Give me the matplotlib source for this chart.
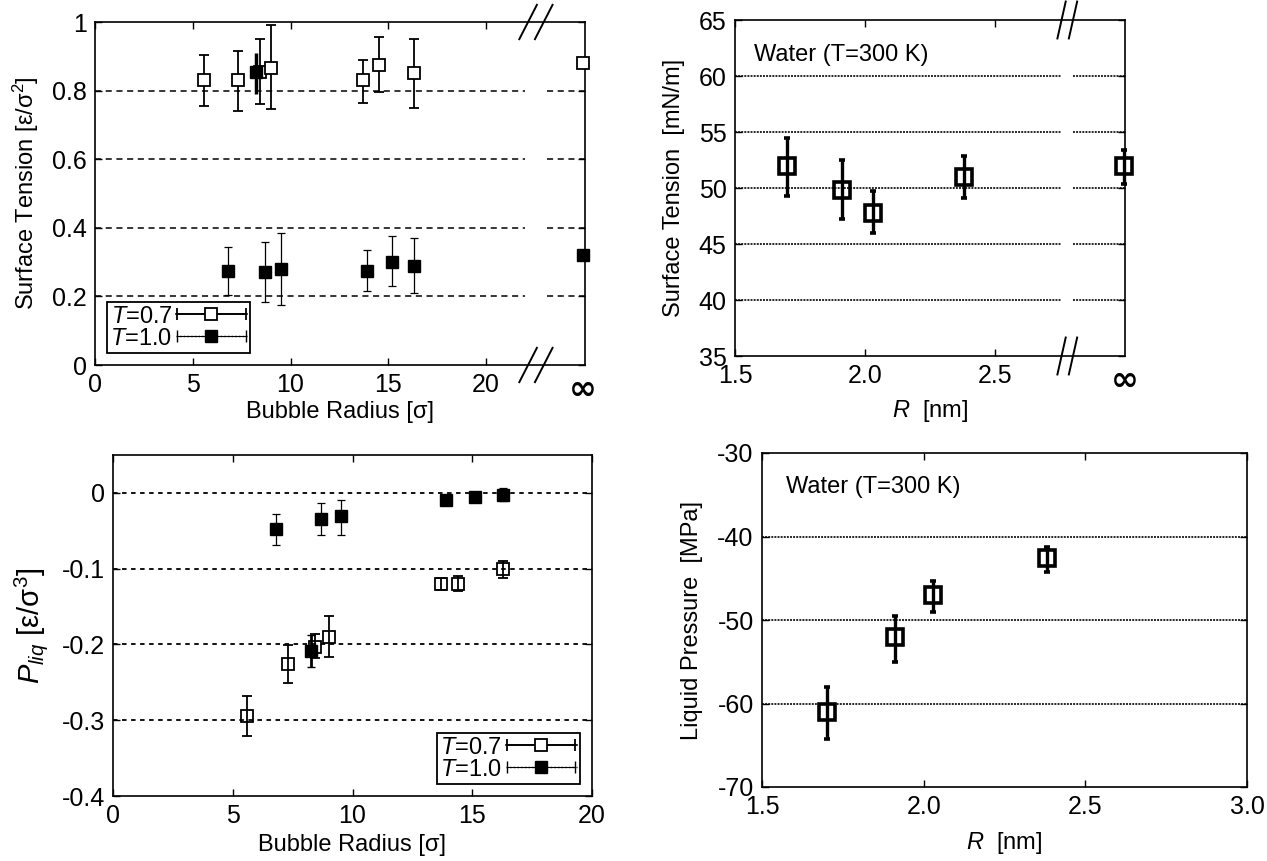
import matplotlib
matplotlib.use("Agg")
import matplotlib.pyplot as plt
from matplotlib.legend_handler import HandlerErrorbar
import numpy as np

plt.rcParams["font.family"] = ["Liberation Sans", "DejaVu Sans"]
plt.rcParams["mathtext.fontset"] = "custom"
plt.rcParams["mathtext.rm"] = "Liberation Sans"
plt.rcParams["mathtext.it"] = "Liberation Sans:italic"
plt.rcParams["axes.unicode_minus"] = False

# --- top left: LJ surface tension ---
st07_x = [5.6, 7.3, 8.45, 9.0, 13.7, 14.5, 16.3]
st07_y = [0.83, 0.83, 0.855, 0.865, 0.83, 0.875, 0.85]
st07_lo = [0.755, 0.74, 0.76, 0.745, 0.765, 0.795, 0.75]
st07_hi = [0.905, 0.915, 0.95, 0.99, 0.89, 0.955, 0.95]
st07_inf = 0.88

st10_x = [6.8, 8.7, 9.5, 13.9, 15.2, 16.3]
st10_y = [0.275, 0.27, 0.28, 0.275, 0.30, 0.29]
st10_lo = [0.205, 0.185, 0.175, 0.215, 0.23, 0.21]
st10_hi = [0.345, 0.36, 0.385, 0.335, 0.375, 0.37]
st10_inf = 0.32

# overlapping marker near R=8.2 (drawn filled)
st_ov_x = [8.25]
st_ov_y = [0.853]
st_ov_lo = [0.79]
st_ov_hi = [0.91]

# --- bottom left: LJ liquid pressure ---
pl07_x = [5.6, 7.3, 8.45, 9.0, 13.7, 14.4, 16.3]
pl07_y = [-0.295, -0.226, -0.203, -0.19, -0.12, -0.12, -0.101]
pl07_lo = [-0.321, -0.251, -0.218, -0.216, -0.128, -0.129, -0.112]
pl07_hi = [-0.268, -0.201, -0.186, -0.163, -0.112, -0.11, -0.09]

pl10_x = [6.8, 8.7, 9.5, 13.9, 15.1, 16.3]
pl10_y = [-0.048, -0.035, -0.031, -0.009, -0.006, -0.003]
pl10_lo = [-0.069, -0.055, -0.055, -0.014, -0.01, -0.011]
pl10_hi = [-0.028, -0.014, -0.01, -0.005, -0.002, 0.006]

pl_ov_x = [8.25]
pl_ov_y = [-0.208]
pl_ov_lo = [-0.23]
pl_ov_hi = [-0.188]

# --- top right: water surface tension ---
wst_x = [1.70, 1.91, 2.03, 2.38]
wst_y = [52.0, 49.8, 47.8, 51.0]
wst_lo = [49.3, 47.2, 46.0, 49.1]
wst_hi = [54.5, 52.5, 49.7, 52.9]
wst_inf = 52.0
wst_inf_lo = 50.4
wst_inf_hi = 53.4

# --- bottom right: water liquid pressure ---
wpl_x = [1.70, 1.91, 2.03, 2.38]
wpl_y = [-61.0, -52.0, -47.0, -42.6]
wpl_lo = [-64.3, -55.0, -49.0, -44.3]
wpl_hi = [-58.0, -49.5, -45.3, -41.2]

W, H = 1267, 861
fig = plt.figure(figsize=(W / 100, H / 100), dpi=100)

TICK = 18
LAB = 17


def px_axes(x0, x1, y0, y1):
    return fig.add_axes([x0 / W, 1 - y1 / H, (x1 - x0) / W, (y1 - y0) / H])


def errs(y, lo, hi):
    y = np.array(y)
    return [y - np.array(lo), np.array(hi) - y]


def style(ax):
    ax.tick_params(direction="in", top=True, right=True, length=5, width=1,
                   labelsize=TICK, pad=6)
    for s in ax.spines.values():
        s.set_linewidth(1.2)


def hgrid(ax, ys, gap, **kw):
    x0, x1 = ax.get_xlim()
    for y in ys:
        if gap is None:
            ax.plot([x0, x1], [y, y], color="k", zorder=1, **kw)
        else:
            ax.plot([x0, gap[0]], [y, y], color="k", zorder=1, **kw)
            ax.plot([gap[1], x1], [y, y], color="k", zorder=1, **kw)


def break_marks(ax, xb, dx, hw, hh):
    tr = ax.get_xaxis_transform()
    for yb in (0, 1):
        for d in (-dx, dx):
            ax.plot([xb + d - hw, xb + d + hw], [yb - hh, yb + hh],
                    color="k", lw=1.4, transform=tr, clip_on=False)


def inf_label(ax):
    lab = ax.get_xticklabels()[-1]
    lab.set_fontsize(24)
    lab.set_fontweight("bold")
    lab.set_family("DejaVu Sans")
    t = ax.xaxis.get_major_ticks()[-1]
    t.tick1line.set_visible(False)
    t.tick2line.set_visible(False)


def lj_legend(ax, loc):
    h07 = ax.errorbar([np.nan], [np.nan], xerr=[1.0], fmt="-s", ms=9,
                      mfc="white", mec="k", mew=1.3, color="k", lw=1.2,
                      ecolor="k", elinewidth=1.2, capsize=4, capthick=1.2,
                      label="$T$=0.7")
    h10 = ax.errorbar([np.nan], [np.nan], xerr=[1.0], fmt="s", ls=":", ms=9,
                      mfc="k", mec="k", color="k", lw=1.0, ecolor="k",
                      elinewidth=0.8, capsize=4, capthick=1.0,
                      label="$T$=1.0")
    leg = ax.legend(handles=[h07, h10], loc=loc, fontsize=LAB,
                    markerfirst=False, fancybox=False, edgecolor="k",
                    framealpha=1, handlelength=3.0, handletextpad=0.15,
                    borderpad=0.15, labelspacing=0.0, borderaxespad=0.5,
                    numpoints=1,
                    handler_map={h07: HandlerErrorbar(xerr_size=1.45),
                                 h10: HandlerErrorbar(xerr_size=1.45)})
    leg.get_frame().set_linewidth(1.3)
    return leg


# top left
ax1 = px_axes(95, 585, 22, 365)
ax1.set_xlim(0, 25.06)
ax1.set_ylim(0, 1)
hgrid(ax1, [0.2, 0.4, 0.6, 0.8], (22.0, 23.1), lw=1.1, dashes=(4, 3))
ax1.errorbar(st07_x, st07_y, yerr=errs(st07_y, st07_lo, st07_hi), fmt="s",
             ms=9, mfc="white", mec="k", mew=1.3, ecolor="k", elinewidth=1.3,
             capsize=3.5, capthick=1.3, zorder=3)
ax1.errorbar(st_ov_x, st_ov_y, yerr=errs(st_ov_y, st_ov_lo, st_ov_hi), fmt="s",
             ms=9, mfc="k", mec="k", ecolor="k", elinewidth=2.5, capsize=0,
             zorder=4)
ax1.errorbar(st10_x, st10_y, yerr=errs(st10_y, st10_lo, st10_hi), fmt="s",
             ms=9, mfc="k", mec="k", ecolor="k", elinewidth=0.9,
             capsize=3, capthick=0.9, zorder=3)
ax1.plot([24.95], [st07_inf], "s", ms=9, mfc="white", mec="k", mew=1.3,
         clip_on=False, zorder=5)
ax1.plot([24.95], [st10_inf], "s", ms=9, mfc="k", mec="k",
         clip_on=False, zorder=5)
ax1.set_xticks([0, 5, 10, 15, 20, 24.95])
ax1.set_xticklabels(["0", "5", "10", "15", "20", "∞"])
ax1.set_yticks([0, 0.2, 0.4, 0.6, 0.8, 1.0])
ax1.set_yticklabels(["0", "0.2", "0.4", "0.6", "0.8", "1"])
ax1.set_xlabel("Bubble Radius [σ]", fontsize=LAB)
ax1.xaxis.set_label_coords(0.5, -0.105)
ax1.set_ylabel("Surface Tension [ε/σ$^2$]", fontsize=LAB, labelpad=8)
style(ax1)
inf_label(ax1)
break_marks(ax1, 22.55, 0.4, 0.45, 0.05)
lj_legend(ax1, "lower left")

# top right
ax2 = px_axes(735, 1125, 20, 356)
ax2.set_xlim(1.5, 3.0)
ax2.set_ylim(35, 65)
hgrid(ax2, [40, 45, 50, 55, 60], (2.755, 2.80), lw=1.4, dashes=(1, 0.6),
      alpha=0.85)
ax2.errorbar(wst_x, wst_y, yerr=errs(wst_y, wst_lo, wst_hi), fmt="s", ms=11,
             mfc="none", mec="k", mew=2.6, ecolor="k", elinewidth=2.4,
             capsize=2, capthick=2.4, zorder=3)
ax2.errorbar([2.995], [wst_inf], yerr=[[wst_inf - wst_inf_lo],
             [wst_inf_hi - wst_inf]], fmt="s", ms=11, mfc="none", mec="k",
             mew=2.6, ecolor="k", elinewidth=2.4, capsize=2, capthick=2.4,
             clip_on=False, zorder=3)
ax2.set_xticks([1.5, 2.0, 2.5, 3.0])
ax2.set_xticklabels(["1.5", "2.0", "2.5", "∞"])
ax2.set_yticks([35, 40, 45, 50, 55, 60, 65])
ax2.set_xlabel("$R$  [nm]", fontsize=LAB)
ax2.xaxis.set_label_coords(0.5, -0.125)
ax2.set_ylabel("Surface Tension  [mN/m]", fontsize=LAB, labelpad=10)
style(ax2)
inf_label(ax2)
ax2.text(0.05, 0.93, "Water (T=300 K)", transform=ax2.transAxes,
         fontsize=LAB, va="top")
break_marks(ax2, 2.778, 0.022, 0.016, 0.055)

# bottom left
ax3 = px_axes(113, 592, 455, 796)
ax3.set_xlim(0, 20)
ax3.set_ylim(-0.4, 0.05)
hgrid(ax3, [-0.3, -0.2, -0.1, 0.0], None, lw=1.3, dashes=(2.5, 2.5))
ax3.errorbar(pl07_x, pl07_y, yerr=errs(pl07_y, pl07_lo, pl07_hi), fmt="s",
             ms=9, mfc="none", mec="k", mew=1.3, ecolor="k", elinewidth=1.3,
             capsize=3.5, capthick=1.3, zorder=3)
ax3.errorbar(pl_ov_x, pl_ov_y, yerr=errs(pl_ov_y, pl_ov_lo, pl_ov_hi),
             fmt="s", ms=9, mfc="k", mec="k", ecolor="k", elinewidth=2.0,
             capsize=3, zorder=4)
ax3.errorbar(pl10_x, pl10_y, yerr=errs(pl10_y, pl10_lo, pl10_hi), fmt="s",
             ms=9, mfc="k", mec="k", ecolor="k", elinewidth=0.9,
             capsize=3, capthick=0.9, zorder=3)
ax3.set_xticks([0, 5, 10, 15, 20])
ax3.set_yticks([-0.4, -0.3, -0.2, -0.1, 0])
ax3.set_yticklabels(["-0.4", "-0.3", "-0.2", "-0.1", "0"])
ax3.set_xlabel("Bubble Radius [σ]", fontsize=LAB, labelpad=4)
ax3.set_ylabel("$P_{liq}$ [ε/σ$^3$]", fontsize=21, labelpad=8)
style(ax3)
lj_legend(ax3, "lower right")

# bottom right
ax4 = px_axes(762, 1247, 453, 787)
ax4.set_xlim(1.5, 3.0)
ax4.set_ylim(-70, -30)
hgrid(ax4, [-60, -50, -40], None, lw=1.4, dashes=(1, 0.6), alpha=0.85)
ax4.errorbar(wpl_x, wpl_y, yerr=errs(wpl_y, wpl_lo, wpl_hi), fmt="s", ms=11,
             mfc="none", mec="k", mew=2.6, ecolor="k", elinewidth=2.4,
             capsize=2, capthick=2.4, zorder=3)
ax4.set_xticks([1.5, 2.0, 2.5, 3.0])
ax4.set_xticklabels(["1.5", "2.0", "2.5", "3.0"])
ax4.set_yticks([-70, -60, -50, -40, -30])
ax4.set_xlabel("$R$  [nm]", fontsize=LAB, labelpad=8)
ax4.set_ylabel("Liquid Pressure  [MPa]", fontsize=LAB, labelpad=10)
style(ax4)
ax4.text(0.05, 0.93, "Water (T=300 K)", transform=ax4.transAxes,
         fontsize=LAB, va="top")

fig.savefig("out.png", dpi=100)
